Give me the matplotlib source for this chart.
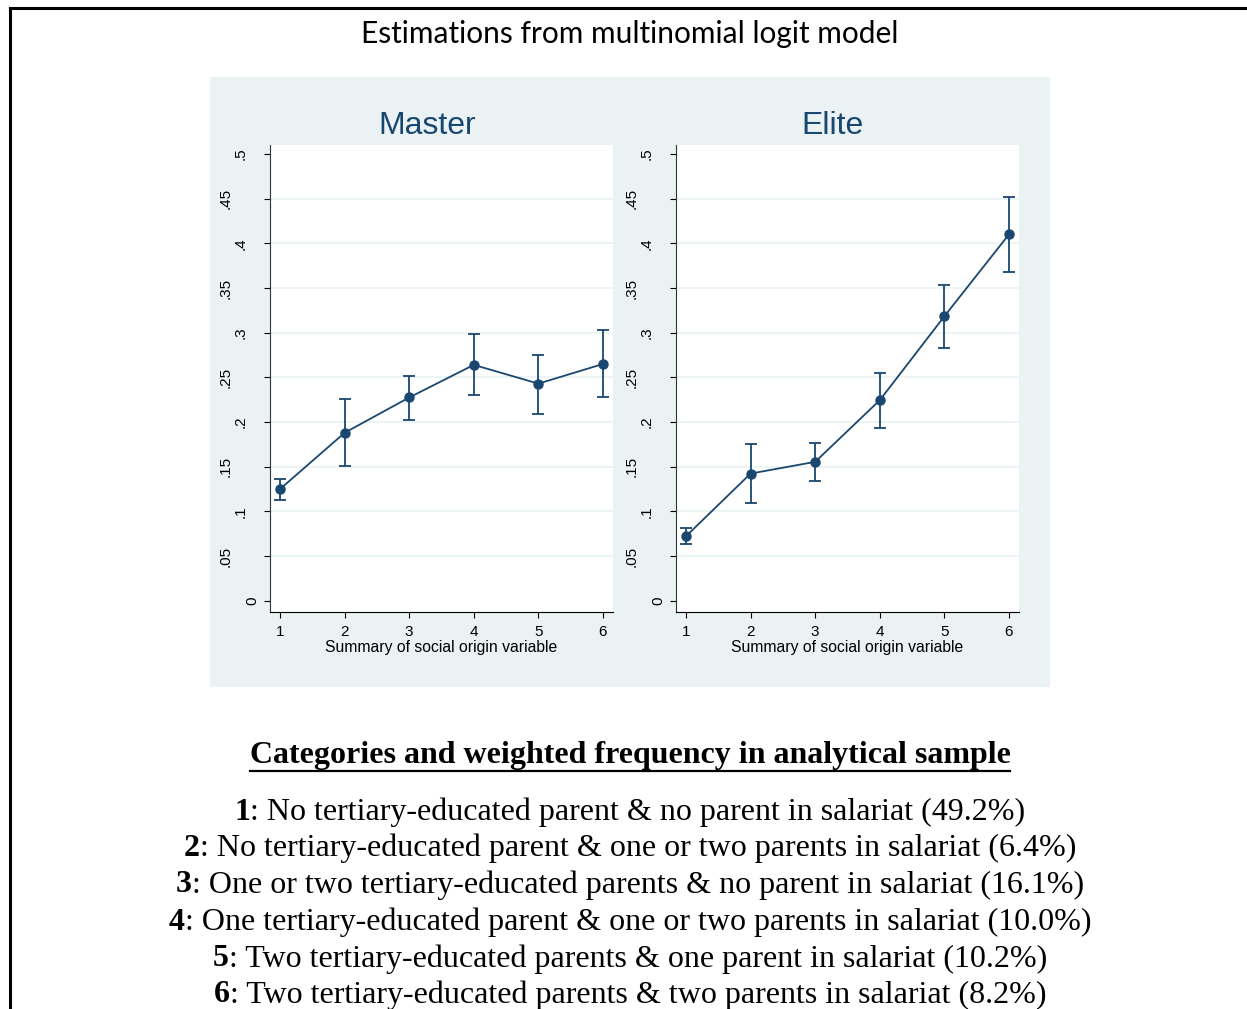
import numpy as np
import matplotlib.pyplot as plt
from matplotlib.patches import Rectangle
from matplotlib.lines import Line2D
from matplotlib.transforms import ScaledTranslation

# social origin categories
x = [1, 2, 3, 4, 5, 6]

# predicted probabilities with 95% CI
master = [0.125, 0.188, 0.2275, 0.264, 0.243, 0.265]
master_lo = [0.113, 0.151, 0.202, 0.230, 0.209, 0.2275]
master_hi = [0.1365, 0.2256, 0.252, 0.298, 0.275, 0.303]

elite = [0.0723, 0.1424, 0.1555, 0.2245, 0.3184, 0.410]
elite_lo = [0.0634, 0.110, 0.1346, 0.193, 0.2834, 0.368]
elite_hi = [0.081, 0.175, 0.1767, 0.2554, 0.3531, 0.4522]

yticks = [0, 0.05, 0.1, 0.15, 0.2, 0.25, 0.3, 0.35, 0.4, 0.45, 0.5]
ytick_labels = ['0', '.05', '.1', '.15', '.2', '.25', '.3', '.35', '.4', '.45', '.5']

main_title = 'Estimations from multinomial logit model'
panel_titles = ['Master', 'Elite']
xlab = 'Summary of social origin variable'
legend_head = 'Categories and weighted frequency in analytical sample'
cat_nums = ['1', '2', '3', '4', '5', '6']
cat_texts = [
    ': No tertiary-educated parent & no parent in salariat (49.2%)',
    ': No tertiary-educated parent & one or two parents in salariat (6.4%)',
    ': One or two tertiary-educated parents & no parent in salariat (16.1%)',
    ': One tertiary-educated parent & one or two parents in salariat (10.0%)',
    ': Two tertiary-educated parents & one parent in salariat (10.2%)',
    ': Two tertiary-educated parents & two parents in salariat (8.2%)',
]

W, H = 1247, 1009
navy = '#1a476f'
bg = '#eaf2f3'

fig = plt.figure(figsize=(W / 100, H / 100), dpi=100)
fig.patch.set_facecolor('white')

def fx(px):
    return px / W

def fy(py):
    return 1 - py / H

# frame lines of the surrounding box
fig.add_artist(Line2D([fx(10), 1], [fy(8), fy(8)], color='black', lw=2.2))
fig.add_artist(Line2D([fx(10), fx(10)], [fy(8), 0], color='black', lw=2.2))

fig.text(fx(630), fy(34), main_title, family='Lato', fontsize=21.5,
         ha='center', va='center')

# stata graph region
fig.add_artist(Rectangle((fx(210), fy(687)), fx(840), (687 - 77) / H,
                         facecolor=bg, edgecolor='none', zorder=0))

# stata shifts rotated labels left by their length
label_shift = {1: 18, 2: 29, 3: 44}

panels = [(270, master, master_lo, master_hi), (676, elite, elite_lo, elite_hi)]
for (left, y, lo, hi), name in zip(panels, panel_titles):
    ax = fig.add_axes([fx(left), fy(612), fx(343), 467 / H])
    ax.set_facecolor('white')
    yerr = [np.array(y) - np.array(lo), np.array(hi) - np.array(y)]
    ax.errorbar(x, y, yerr=yerr, color=navy, lw=1.3, marker='o', ms=6.5,
                capsize=4, capthick=1.3, elinewidth=1.3, zorder=3)
    ax.set_xlim(0.845, 6.155)
    ax.set_ylim(-0.0125, 0.51)
    ax.set_yticks(yticks)
    ax.set_yticklabels([])
    for val, lab in zip(yticks, ytick_labels):
        tr = ax.get_yaxis_transform() + ScaledTranslation(
            -label_shift[len(lab)] / 100, 0, fig.dpi_scale_trans)
        ax.text(0, val, lab, transform=tr, rotation=90, ha='center',
                va='center', fontsize=11, family='Liberation Sans')
    ax.set_xticks(x)
    ax.set_xticklabels([str(v) for v in x], fontsize=11, family='Liberation Sans')
    for g in yticks[1:-1]:
        ax.axhline(g, color=bg, lw=1.2, zorder=1)
    ax.tick_params(axis='y', length=4.5, width=0.8)
    ax.tick_params(axis='x', length=4, width=0.8, pad=5)
    for s in ['top', 'right']:
        ax.spines[s].set_visible(False)
    ax.spines['left'].set_color('#333333')
    ax.spines['bottom'].set_color('black')
    ax.set_xlabel(xlab, fontsize=11.3, family='Liberation Sans', labelpad=1)
    fig.text(fx(left + 157), fy(126), name, color=navy, fontsize=23,
             family='Liberation Sans', ha='center', va='center')

# category legend below the chart
fig.canvas.draw()
renderer = fig.canvas.get_renderer()

head = fig.text(fx(630), fy(756), legend_head, family='Liberation Serif',
                fontsize=23, fontweight='bold', ha='center', va='center')
bb = head.get_window_extent(renderer)
fig.add_artist(Line2D([bb.x0 / W, bb.x1 / W], [fy(771), fy(771)],
                      color='black', lw=1.6))

line_y = [812, 848, 885, 922, 959, 995]
for num, txt, yy in zip(cat_nums, cat_texts, line_y):
    t1 = fig.text(0, fy(yy), num, family='Liberation Serif', fontsize=23,
                  fontweight='bold', va='center')
    t2 = fig.text(0, fy(yy), txt, family='Liberation Serif', fontsize=23,
                  va='center')
    w1 = t1.get_window_extent(renderer).width
    w2 = t2.get_window_extent(renderer).width
    start = 630 - (w1 + w2) / 2
    t1.set_x(start / W)
    t2.set_x((start + w1) / W)

fig.savefig('out.png', dpi=100)
